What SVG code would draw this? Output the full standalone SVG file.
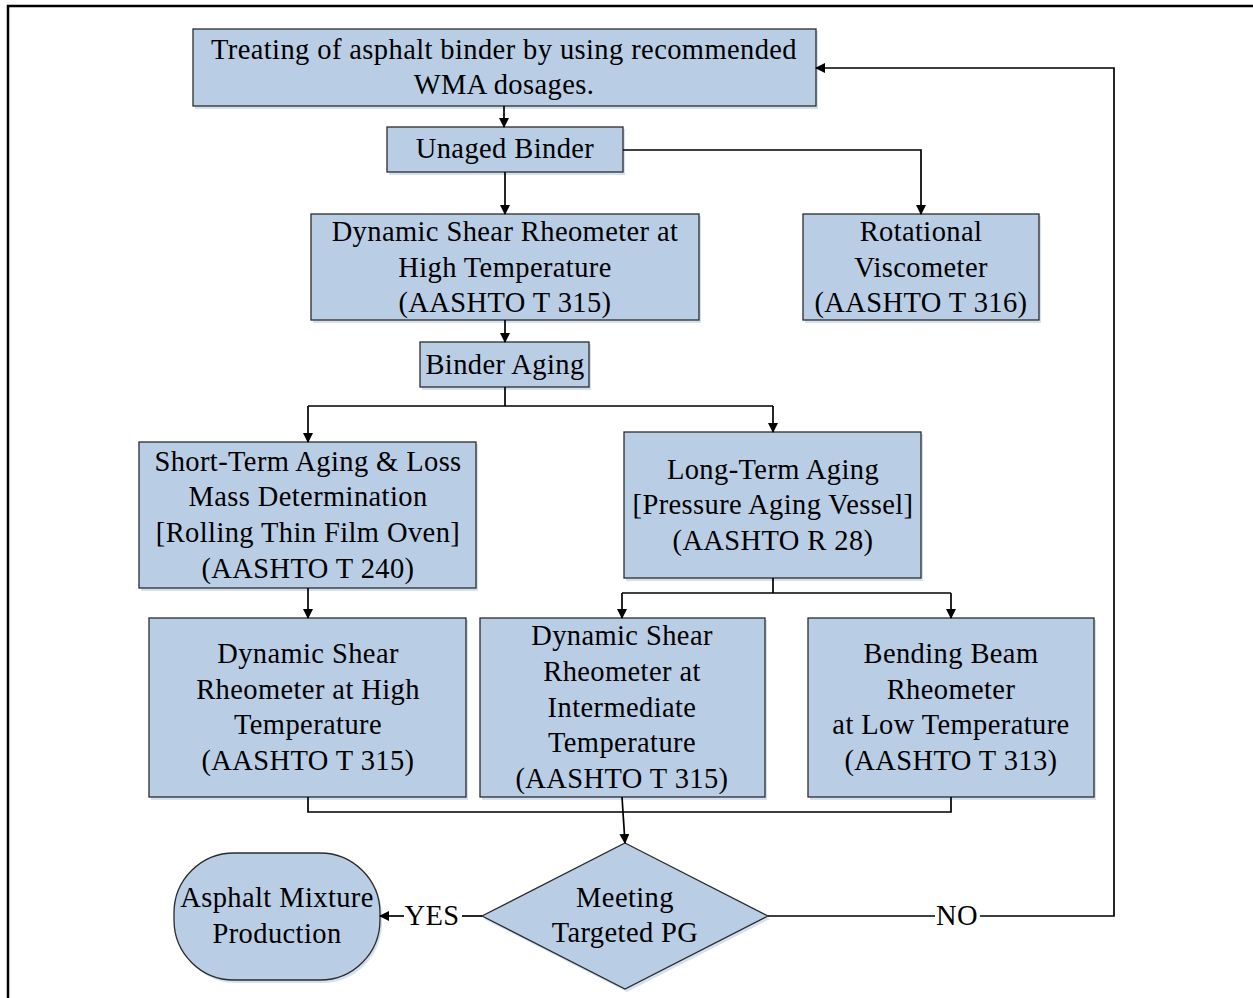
<svg xmlns="http://www.w3.org/2000/svg" width="1253" height="998" viewBox="0 0 1253 998">
<style>
.box{fill:#B9CDE5;stroke:#2b2b2b;stroke-width:1.3}
.sh{fill:#D5E1F0;stroke:none}
.t{font-family:"Liberation Serif","Times New Roman",serif;font-size:28.5px;letter-spacing:0.4px;fill:#000;text-anchor:middle}
.c{fill:none;stroke:#000;stroke-width:1.7}
</style>
<defs>
<marker id="ah" markerWidth="10" markerHeight="10" refX="9" refY="5" orient="auto" markerUnits="userSpaceOnUse">
<path d="M0,0 L10,5 L0,10 z" fill="#000"/>
</marker>
</defs>
<rect width="1253" height="998" fill="#fff"/>
<path d="M8,998 V6 H1253" fill="none" stroke="#000" stroke-width="2.5"/>

<g id="n1"><rect class="sh" x="195" y="31" width="623" height="78"/><rect class="box" x="193" y="29" width="623" height="77"/>
<text class="t" x="504" y="59">Treating of asphalt binder by using recommended</text><text class="t" x="504" y="94">WMA dosages.</text></g>
<g id="n2"><rect class="sh" x="389" y="129" width="236" height="46"/><rect class="box" x="387" y="127" width="236" height="45"/>
<text class="t" x="505" y="158">Unaged Binder</text></g>
<g id="n3"><rect class="sh" x="313" y="216" width="388" height="107"/><rect class="box" x="311" y="214" width="388" height="106"/>
<text class="t" x="505" y="241">Dynamic Shear Rheometer at</text><text class="t" x="505" y="277">High Temperature</text><text class="t" x="505" y="312">(AASHTO T 315)</text></g>
<g id="n4"><rect class="sh" x="805" y="216" width="236" height="107"/><rect class="box" x="803" y="214" width="236" height="106"/>
<text class="t" x="921" y="241">Rotational</text><text class="t" x="921" y="277">Viscometer</text><text class="t" x="921" y="312">(AASHTO T 316)</text></g>
<g id="n5"><rect class="sh" x="422" y="344" width="169" height="46"/><rect class="box" x="420" y="342" width="169" height="45"/>
<text class="t" x="505" y="374">Binder Aging</text></g>
<g id="n6"><rect class="sh" x="141" y="444" width="337" height="147"/><rect class="box" x="139" y="442" width="337" height="146"/>
<text class="t" x="308" y="471">Short-Term Aging &amp; Loss</text><text class="t" x="308" y="506">Mass Determination</text><text class="t" x="308" y="542">[Rolling Thin Film Oven]</text><text class="t" x="308" y="578">(AASHTO T 240)</text></g>
<g id="n7"><rect class="sh" x="626" y="434" width="297" height="147"/><rect class="box" x="624" y="432" width="297" height="146"/>
<text class="t" x="773" y="479">Long-Term Aging</text><text class="t" x="773" y="514">[Pressure Aging Vessel]</text><text class="t" x="773" y="550">(AASHTO R 28)</text></g>
<g id="n8"><rect class="sh" x="151" y="620" width="317" height="180"/><rect class="box" x="149" y="618" width="317" height="179"/>
<text class="t" x="308" y="663">Dynamic Shear</text><text class="t" x="308" y="699">Rheometer at High</text><text class="t" x="308" y="734">Temperature</text><text class="t" x="308" y="770">(AASHTO T 315)</text></g>
<g id="n9"><rect class="sh" x="482" y="620" width="285" height="180"/><rect class="box" x="480" y="618" width="285" height="179"/>
<text class="t" x="622" y="645">Dynamic Shear</text><text class="t" x="622" y="681">Rheometer at</text><text class="t" x="622" y="717">Intermediate</text><text class="t" x="622" y="752">Temperature</text><text class="t" x="622" y="788">(AASHTO T 315)</text></g>
<g id="n10"><rect class="sh" x="810" y="620" width="286" height="180"/><rect class="box" x="808" y="618" width="286" height="179"/>
<text class="t" x="951" y="663">Bending Beam</text><text class="t" x="951" y="699">Rheometer</text><text class="t" x="951" y="734">at Low Temperature</text><text class="t" x="951" y="770">(AASHTO T 313)</text></g>
<g id="n11"><path class="sh" d="M627,846 L770,919 L627,992 L484,919 z"/><path class="box" d="M625,843 L768,916 L625,989 L482,916 z"/>
<text class="t" x="625" y="907">Meeting</text><text class="t" x="625" y="942">Targeted PG</text></g>
<g id="n12"><rect class="sh" x="176" y="855" width="206" height="128" rx="60" ry="60"/><rect class="box" x="174" y="853" width="206" height="127" rx="60" ry="60"/>
<text class="t" x="277" y="907">Asphalt Mixture</text><text class="t" x="277" y="943">Production</text></g>

<g id="connectors">
<path class="c" d="M504,106 V127" marker-end="url(#ah)"/>
<path class="c" d="M505,172 V214" marker-end="url(#ah)"/>
<path class="c" d="M623,150 H921 V214" marker-end="url(#ah)"/>
<path class="c" d="M505,320 V342" marker-end="url(#ah)"/>
<path class="c" d="M505,387 V406"/>
<path class="c" d="M308,406 H773"/>
<path class="c" d="M308,406 V442" marker-end="url(#ah)"/>
<path class="c" d="M773,406 V432" marker-end="url(#ah)"/>
<path class="c" d="M308,588 V618" marker-end="url(#ah)"/>
<path class="c" d="M773,578 V593"/>
<path class="c" d="M622,593 H951"/>
<path class="c" d="M622,593 V618" marker-end="url(#ah)"/>
<path class="c" d="M951,593 V618" marker-end="url(#ah)"/>
<path class="c" d="M308,797 V812 H951 V797"/>
<path class="c" d="M622,797 L625,843" marker-end="url(#ah)"/>
<path class="c" d="M482,916 H462"/>
<path class="c" d="M404,916 H380" marker-end="url(#ah)"/>
<text class="t" x="432" y="925">YES</text>
<path class="c" d="M768,916 H935"/>
<text class="t" x="957" y="925">NO</text>
<path class="c" d="M980,916 H1114 V68 H816" marker-end="url(#ah)"/>
</g>
</svg>
